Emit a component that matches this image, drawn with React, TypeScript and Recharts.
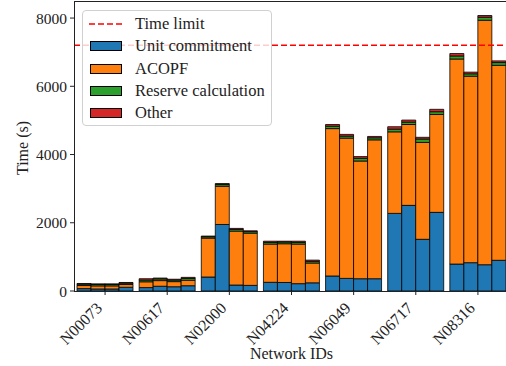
import React from 'react'
import { BarChart, Bar, XAxis, YAxis, ReferenceLine, Label } from 'recharts'

const NETWORKS = ['N00073', 'N00617', 'N02000', 'N04224', 'N06049', 'N06717', 'N08316']

// four runs per network, values in seconds
const UNIT_COMMITMENT = [
  [70, 60, 60, 110],
  [100, 140, 125, 155],
  [410, 1950, 175, 165],
  [255, 250, 215, 240],
  [440, 370, 360, 360],
  [2275, 2510, 1515, 2305],
  [790, 830, 770, 900],
]
const ACOPF = [
  [90, 90, 90, 80],
  [170, 165, 150, 160],
  [1140, 1120, 1580, 1530],
  [1120, 1135, 1160, 580],
  [4320, 4110, 3450, 4070],
  [2390, 2370, 2840, 2870],
  [6010, 5465, 7165, 5715],
]
const RESERVE = [
  [40, 40, 40, 40],
  [50, 50, 45, 55],
  [40, 50, 50, 45],
  [50, 50, 50, 50],
  [70, 60, 80, 60],
  [80, 70, 100, 80],
  [90, 70, 90, 80],
]
const OTHER = [
  [20, 20, 20, 20],
  [40, 25, 25, 30],
  [20, 30, 30, 25],
  [35, 25, 35, 35],
  [50, 50, 50, 40],
  [70, 60, 50, 70],
  [70, 50, 50, 50],
]

const TIME_LIMIT = 7200
const Y_TICKS = [0, 2000, 4000, 6000, 8000]

const SERIES = [
  { key: 'uc', name: 'Unit commitment', values: UNIT_COMMITMENT, color: '#1f77b4' },
  { key: 'ac', name: 'ACOPF', values: ACOPF, color: '#ff7f0e' },
  { key: 'rs', name: 'Reserve calculation', values: RESERVE, color: '#2ca02c' },
  { key: 'ot', name: 'Other', values: OTHER, color: '#d62728' },
]
const RUNS = [0, 1, 2, 3]

const data = NETWORKS.map((name, i) => {
  const row: Record<string, string | number> = { name }
  for (const s of SERIES) {
    RUNS.forEach((j) => {
      row[`${s.key}${j}`] = s.values[i][j]
    })
  }
  return row
})

const FONT = 'Liberation Serif, serif'
const INK = '#222222'

const XTick = (props: any) => {
  const { x, y, payload } = props
  return (
    <g transform={`translate(${x - 2},${y + 12})`}>
      <text
        transform="rotate(-45)"
        textAnchor="end"
        style={{ fontFamily: FONT, fontSize: 16, fill: INK }}
      >
        {payload.value}
      </text>
    </g>
  )
}

export default function App() {
  return (
    <div
      style={{
        position: 'absolute',
        left: 0,
        top: 0,
        width: 506,
        height: 366,
        overflow: 'hidden',
        background: '#fff',
        fontFamily: FONT,
      }}
    >
      <BarChart
        width={515}
        height={366}
        data={data}
        margin={{ top: 1, right: 6, left: 0, bottom: 0 }}
        barGap={0}
        barCategoryGap={3}
        style={{ fontFamily: FONT }}
      >
        <XAxis
          dataKey="name"
          height={75}
          axisLine={false}
          tickSize={4}
          tickMargin={2}
          tickLine={{ stroke: INK }}
          tick={<XTick />}
          interval={0}
        >
          <Label
            value="Network IDs"
            position="insideBottom"
            offset={7}
            style={{ fontFamily: FONT, fontSize: 16, fill: INK }}
          />
        </XAxis>
        <YAxis
          width={74}
          domain={[0, 8500]}
          ticks={Y_TICKS}
          allowDataOverflow
          axisLine={false}
          tickSize={4}
          tickMargin={3}
          tickLine={{ stroke: INK }}
          tick={{ style: { fontFamily: FONT, fontSize: 15.5, fill: INK } }}
        >
          <Label
            content={() => (
              <text
                x={22}
                y={148}
                transform="rotate(-90 22 148)"
                textAnchor="middle"
                dominantBaseline="central"
                style={{ fontFamily: FONT, fontSize: 16, fill: INK }}
              >
                Time (s)
              </text>
            )}
          />
        </YAxis>
        <ReferenceLine
          y={TIME_LIMIT}
          stroke="#ff0000"
          strokeWidth={1.5}
          strokeDasharray="6 3"
          ifOverflow="extendDomain"
        />
        {RUNS.flatMap((j) =>
          SERIES.map((s) => (
            <Bar
              key={`${s.key}${j}`}
              dataKey={`${s.key}${j}`}
              stackId={`run${j}`}
              fill={s.color}
              stroke="#000"
              strokeOpacity={0.8}
              strokeWidth={1}
              isAnimationActive={false}
            />
          ))
        )}
      </BarChart>

      {/* axes frame */}
      <div
        style={{
          position: 'absolute',
          left: 74,
          top: 1,
          width: 435,
          height: 291,
          boxSizing: 'border-box',
          border: `1px solid ${INK}`,
          pointerEvents: 'none',
        }}
      />

      {/* legend */}
      <div
        style={{
          position: 'absolute',
          left: 82,
          top: 10,
          width: 190,
          height: 116,
          boxSizing: 'border-box',
          border: '1px solid #d0d0d0',
          borderRadius: 4,
          background: 'rgba(255,255,255,0.8)',
          fontSize: 16.5,
          color: INK,
          paddingTop: 2,
        }}
      >
        <div style={{ display: 'flex', alignItems: 'center', height: 22.3 }}>
          <svg width={52} height={10} style={{ flex: 'none' }}>
            <line x1={6} x2={40} y1={5} y2={5} stroke="#ff0000" strokeWidth={1.5} strokeDasharray="6 3" />
          </svg>
          <span>Time limit</span>
        </div>
        {SERIES.map((s) => (
          <div key={s.key} style={{ display: 'flex', alignItems: 'center', height: 22.3 }}>
            <div style={{ width: 52, flex: 'none' }}>
              <div
                style={{
                  marginLeft: 7,
                  width: 32,
                  height: 10,
                  boxSizing: 'border-box',
                  background: s.color,
                  border: '1px solid #000',
                }}
              />
            </div>
            <span>{s.name}</span>
          </div>
        ))}
      </div>
    </div>
  )
}
